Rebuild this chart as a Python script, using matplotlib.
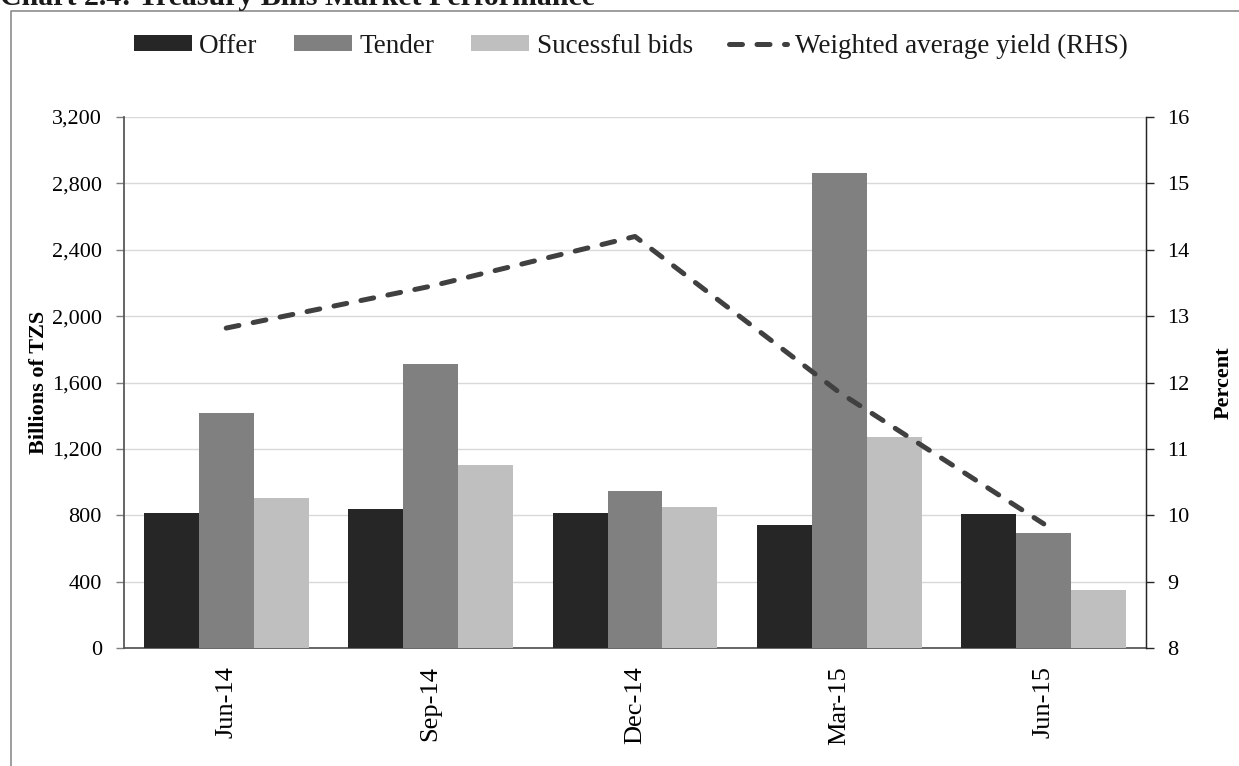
import numpy as np
import matplotlib
matplotlib.use("Agg")
import matplotlib.pyplot as plt
from matplotlib.lines import Line2D

# data
periods = ["Jun-14", "Sep-14", "Dec-14", "Mar-15", "Jun-15"]
offer = [815, 840, 815, 740, 810]
tender = [1415, 1710, 945, 2860, 695]
successful = [905, 1100, 852, 1272, 348]
avg_yield = [12.82, 13.45, 14.2, 11.85, 9.87]

left_ticks = [0, 400, 800, 1200, 1600, 2000, 2400, 2800, 3200]
right_ticks = [8, 9, 10, 11, 12, 13, 14, 15, 16]

plt.rcParams["font.family"] = "serif"
plt.rcParams["font.serif"] = ["Liberation Serif", "DejaVu Serif"]
plt.rcParams["text.color"] = "#1a1a1a"

W, H = 1239, 766
fig = plt.figure(figsize=(W / 100, H / 100), dpi=100)
ax = fig.add_axes([124 / W, 1 - 648 / H, (1146 - 124) / W, (648 - 117) / H])
ax2 = ax.twinx()

x = np.arange(len(periods))
w = 0.269
ax.bar(x - w, offer, w, color="#262626", label="Offer", zorder=3)
ax.bar(x, tender, w, color="#808080", label="Tender", zorder=3)
ax.bar(x + w, successful, w, color="#bfbfbf", label="Sucessful bids", zorder=3)

ax2.plot(x, avg_yield, color="#404040", lw=3.6, linestyle=(0, (2.6, 2.9)),
         dash_capstyle="round", label="Weighted average yield (RHS)")

ax.set_xlim(-0.5, len(periods) - 0.5)
ax.set_ylim(0, 3200)
ax.set_yticks(left_ticks)
ax.set_yticklabels(["{:,}".format(v) for v in left_ticks])
ax2.set_ylim(8, 16)
ax2.set_yticks(right_ticks)

ax.set_xticks(x)
ax.set_xticklabels(periods, rotation=90, fontsize=19)
ax.tick_params(axis="x", length=0, pad=13)
ax.tick_params(axis="y", labelsize=16, length=6, width=1, color="#7f7f7f", pad=10)
ax2.tick_params(axis="y", labelsize=16, length=6, width=1, color="#262626", pad=9)

ax.grid(axis="y", color="#d9d9d9", lw=1, zorder=0)
ax.set_axisbelow(True)

for a in (ax, ax2):
    a.spines["top"].set_visible(False)
ax.spines["left"].set_color("#595959")
ax.spines["left"].set_linewidth(1.3)
ax.spines["bottom"].set_color("#595959")
ax.spines["bottom"].set_linewidth(1.3)
ax2.spines["left"].set_visible(False)
ax2.spines["bottom"].set_visible(False)
ax2.spines["right"].set_color("#262626")
ax2.spines["right"].set_linewidth(1.0)

ax.set_ylabel("Billions of TZS", fontsize=16, fontweight="bold", labelpad=2)
ax2.set_ylabel("Percent", fontsize=16, fontweight="bold", labelpad=18)

# legend across the top
h1, l1 = ax.get_legend_handles_labels()
h2, l2 = ax2.get_legend_handles_labels()
fig.legend(h1 + h2, l1 + l2, loc="center left", bbox_to_anchor=(120 / W, 1 - 46 / H),
           ncol=4, frameon=False, fontsize=19.5, handlelength=2.15, handleheight=0.5,
           handletextpad=0.27, columnspacing=1.35, borderpad=0)

# title cut off by the top edge, and the box frame
fig.text(0.0, 1 - 5 / H, "Chart 2.4: Treasury Bills Market Performance",
         fontsize=21.5, fontweight="bold", va="baseline", ha="left")
fig.add_artist(Line2D([11 / W, 11 / W, 1], [0, 1 - 11 / H, 1 - 11 / H],
                      transform=fig.transFigure, color="#8c8c8c", lw=1.2))

fig.savefig("out.png", dpi=100)
